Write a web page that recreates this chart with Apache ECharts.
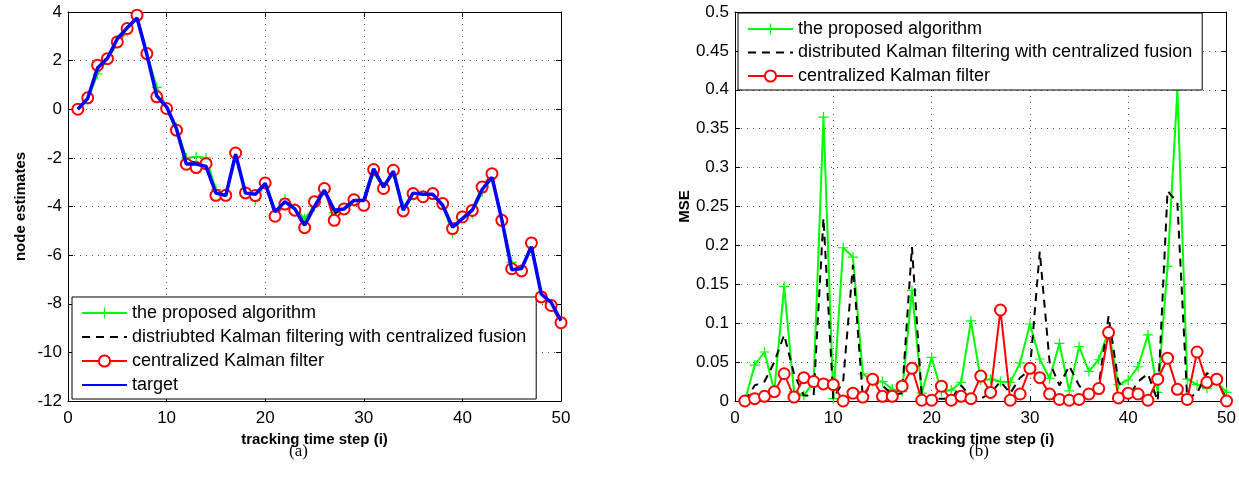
<!DOCTYPE html>
<html lang="en">
<head>
    <meta charset="UTF-8">
    <title>Tracking estimates and MSE</title>
    <script src="https://cdn.jsdelivr.net/npm/echarts@6.0.0/dist/echarts.min.js"></script>
    <style>
        body {
            margin: 0;
            background: #ffffff;
        }
        #chart {
            width: 1239px;
            height: 491px;
        }
    </style>
</head>
<body>
    <div id="chart"></div>

    <script>
        // time steps 1..50
        var steps = [];
        for (var k = 1; k <= 50; k++) steps.push(k);

        // (a) node estimates
        var estProposed = [0, 0.4, 1.45, 2.05, 2.7, 3.2, 3.8, 2.3, 0.9, 0.1,
            -0.75, -2.0, -1.95, -2.0, -3.3, -3.5, -1.9, -3.35, -3.75, -3.05,
            -4.25, -3.7, -4.05, -4.5, -4.0, -3.35, -4.25, -4.05, -3.8, -3.85,
            -2.6, -3.2, -2.65, -4.0, -3.55, -3.6, -3.5, -3.95, -5.1, -4.45,
            -4.3, -3.4, -2.8, -4.5, -6.3, -6.6, -5.6, -7.55, -8.0, -8.85];
        var estDistributed = [0, 0.45, 1.75, 2.1, 2.8, 3.3, 3.8, 2.25, 0.6, 0.05,
            -0.85, -2.1, -2.2, -2.25, -3.45, -3.5, -1.85, -3.4, -3.5, -3.05,
            -4.3, -3.85, -4.15, -4.75, -3.95, -3.3, -4.3, -4.1, -3.8, -3.85,
            -2.55, -3.25, -2.55, -4.15, -3.5, -3.55, -3.5, -3.9, -4.9, -4.45,
            -4.2, -3.3, -2.75, -4.55, -6.5, -6.6, -5.6, -7.65, -8.0, -8.75];
        var estCentralized = [0, 0.47, 1.81, 2.08, 2.77, 3.32, 3.87, 2.29, 0.51, 0.03,
            -0.86, -2.26, -2.4, -2.24, -3.54, -3.54, -1.8, -3.44, -3.55, -3.03,
            -4.4, -3.9, -4.15, -4.87, -3.8, -3.26, -4.57, -4.1, -3.72, -3.95,
            -2.48, -3.26, -2.51, -4.18, -3.47, -3.6, -3.47, -3.88, -4.91, -4.43,
            -4.16, -3.2, -2.65, -4.57, -6.56, -6.65, -5.5, -7.72, -8.07, -8.78];
        var estTarget = [0, 0.45, 1.7, 2.1, 2.9, 3.35, 3.75, 2.25, 0.55, 0.1,
            -0.8, -2.25, -2.25, -2.35, -3.45, -3.55, -1.85, -3.45, -3.5, -3.05,
            -4.22, -3.8, -4.1, -4.77, -4.0, -3.33, -4.15, -4.1, -3.75, -3.75,
            -2.45, -3.2, -2.55, -4.15, -3.45, -3.5, -3.5, -3.95, -4.85, -4.5,
            -4.15, -3.3, -2.8, -4.55, -6.6, -6.55, -5.65, -7.6, -7.95, -8.7];

        // (b) MSE
        var mseProposed = [0, 0.046, 0.063, 0.013, 0.147, 0.012, 0.007, 0.025, 0.365, 0.003,
            0.197, 0.185, 0.035, 0.025, 0.025, 0.015, 0.012, 0.142, 0.01, 0.056,
            0.012, 0.014, 0.024, 0.103, 0.027, 0.028, 0.025, 0.024, 0.049, 0.099,
            0.054, 0.029, 0.074, 0.013, 0.07, 0.038, 0.053, 0.091, 0.021, 0.027,
            0.044, 0.085, 0.011, 0.173, 0.4, 0.028, 0.021, 0.016, 0.025, 0.011];
        var mseDistributed = [0, 0.02, 0.025, 0.05, 0.085, 0.035, 0.007, 0.007, 0.235, 0.003,
            0.025, 0.175, 0.005, 0.025, 0.02, 0.008, 0.01, 0.198, 0.005, 0.003,
            0.003, 0.003, 0.02, 0.005, 0.003, 0.01, 0.025, 0.01, 0.03, 0.04,
            0.192, 0.05, 0.02, 0.045, 0.02, 0.005, 0.02, 0.109, 0.025, 0.005,
            0.025, 0.035, 0, 0.27, 0.255, 0.003, 0.01, 0.036, 0.025, 0.003];
        var mseCentralized = [0, 0.003, 0.006, 0.012, 0.035, 0.005, 0.03, 0.025, 0.022, 0.021,
            0, 0.01, 0.005, 0.028, 0.006, 0.006, 0.019, 0.042, 0.001, 0.001,
            0.019, 0.001, 0.006, 0.003, 0.032, 0.011, 0.117, 0.001, 0.009, 0.042,
            0.03, 0.009, 0.002, 0.001, 0.002, 0.009, 0.016, 0.088, 0.004, 0.01,
            0.009, 0.001, 0.028, 0.055, 0.015, 0.002, 0.063, 0.024, 0.028, 0];

        var FONT = 'Liberation Sans';
        var plus = 'path://M-1,-0.12H1V0.12H-1Z M-0.12,-1H0.12V1H-0.12Z';
        var gridDots = { show: true, lineStyle: { color: '#555', width: 1, type: [1, 5] } };
        var frame = { show: true, onZero: false, lineStyle: { color: '#000', width: 1 } };
        var ticksIn = { show: true, inside: true, length: 5, lineStyle: { color: '#000' } };

        function pairs(vals) {
            return vals.map(function (v, i) { return [steps[i], v]; });
        }

        function mainX(gi, name) {
            return {
                type: 'value', gridIndex: gi, min: 0, max: 50, interval: 10,
                name: name, nameLocation: 'middle', nameGap: 21,
                nameTextStyle: { fontFamily: FONT, fontWeight: 'bold', fontSize: 15, color: '#000' },
                axisLine: frame, axisTick: ticksIn,
                axisLabel: { fontFamily: FONT, fontSize: 17, color: '#000', margin: 9 },
                splitLine: gridDots
            };
        }
        function mirrorX(gi) {
            return {
                type: 'value', gridIndex: gi, min: 0, max: 50, interval: 10, position: 'top',
                axisLine: frame, axisTick: ticksIn,
                axisLabel: { show: false }, splitLine: { show: false }
            };
        }
        function mainY(gi, name, min, max, step, gap) {
            return {
                type: 'value', gridIndex: gi, min: min, max: max, interval: step,
                name: name, nameLocation: 'middle', nameGap: gap,
                nameTextStyle: { fontFamily: FONT, fontWeight: 'bold', fontSize: 15, color: '#000' },
                axisLine: frame, axisTick: ticksIn,
                axisLabel: { fontFamily: FONT, fontSize: 17, color: '#000', margin: 6 },
                splitLine: gridDots
            };
        }
        function mirrorY(gi, min, max, step) {
            return {
                type: 'value', gridIndex: gi, min: min, max: max, interval: step, position: 'right',
                axisLine: frame, axisTick: ticksIn,
                axisLabel: { show: false }, splitLine: { show: false }
            };
        }

        function lineSeries(name, data, xi, yi, color, opts) {
            var s = {
                name: name, type: 'line', xAxisIndex: xi, yAxisIndex: yi,
                data: pairs(data), animation: false,
                lineStyle: { color: color, width: opts.width || 2, type: opts.dash || 'solid' },
                itemStyle: { color: color },
                symbol: 'none', z: opts.z || 2
            };
            if (opts.symbol === 'plus') {
                s.symbol = plus; s.symbolSize = 10; s.itemStyle = { color: color };
            } else if (opts.symbol === 'circle') {
                s.symbol = 'emptyCircle'; s.symbolSize = 11;
                s.itemStyle = { color: color, borderColor: color, borderWidth: 2 };
            }
            s.showSymbol = s.symbol !== 'none';
            return s;
        }

        var nameProp = 'the proposed algorithm';
        var nameDistA = 'distriubted Kalman filtering with centralized fusion';
        var nameDistB = 'distributed Kalman filtering with centralized fusion';
        var nameCent = 'centralized Kalman filter';
        var nameTarget = 'target';
        // legend entries for plain lines: hide the marker, keep the line
        var noMark = { color: 'rgba(0,0,0,0)', borderColor: 'rgba(0,0,0,0)', borderWidth: 0 };

        var legendBase = {
            orient: 'vertical',
            backgroundColor: '#fff',
            borderColor: '#000',
            borderWidth: 1,
            borderRadius: 0,
            itemWidth: 45,
            itemHeight: 14,
            itemGap: 6,
            textStyle: { fontFamily: FONT, fontSize: 18, color: '#000', lineHeight: 18 },
            selectedMode: false
        };

        var chart = echarts.init(document.getElementById('chart'), null, { renderer: 'canvas' });

        var option = {
            backgroundColor: '#fff',
            animation: false,
            grid: [
                { left: 68, top: 12, width: 493, height: 389 },
                { left: 735, top: 12, width: 492, height: 389 }
            ],
            xAxis: [
                mainX(0, 'tracking time step (i)'), mirrorX(0),
                mainX(1, 'tracking time step (i)'), mirrorX(1)
            ],
            yAxis: [
                mainY(0, 'node estimates', -12, 4, 2, 40), mirrorY(0, -12, 4, 2),
                mainY(1, 'MSE', 0, 0.5, 0.05, 30), mirrorY(1, 0, 0.5, 0.05)
            ],
            legend: [
                Object.assign({}, legendBase, {
                    left: 72, top: 297, padding: [7, 10, 5, 9],
                    data: [nameProp, { name: nameDistA, itemStyle: noMark }, nameCent,
                        { name: nameTarget, itemStyle: noMark }]
                }),
                Object.assign({}, legendBase, {
                    left: 738, top: 13, padding: [7, 10, 5, 9], itemGap: 5.5,
                    data: [nameProp, { name: nameDistB, itemStyle: noMark }, nameCent]
                })
            ],
            graphic: [
                { type: 'text', left: 289, top: 443, style: { text: '(a)', font: '17px "Liberation Serif"', fill: '#000' } },
                { type: 'text', left: 969, top: 443, style: { text: '(b)', font: '17px "Liberation Serif"', fill: '#000' } }
            ],
            series: [
                lineSeries(nameProp, estProposed, 0, 0, '#00ff00', { symbol: 'plus', z: 2 }),
                lineSeries(nameDistA, estDistributed, 0, 0, '#000000', { dash: [8, 6], z: 3 }),
                lineSeries(nameCent, estCentralized, 0, 0, '#ff0000', { symbol: 'circle', z: 4 }),
                lineSeries(nameTarget, estTarget, 0, 0, '#0000ff', { width: 3.5, z: 5 }),

                lineSeries(nameProp, mseProposed, 2, 2, '#00ff00', { symbol: 'plus', z: 2 }),
                lineSeries(nameDistB, mseDistributed, 2, 2, '#000000', { dash: [8, 6], z: 3 }),
                lineSeries(nameCent, mseCentralized, 2, 2, '#ff0000', { symbol: 'circle', z: 4 })
            ]
        };

        chart.setOption(option);
    </script>
</body>
</html>
